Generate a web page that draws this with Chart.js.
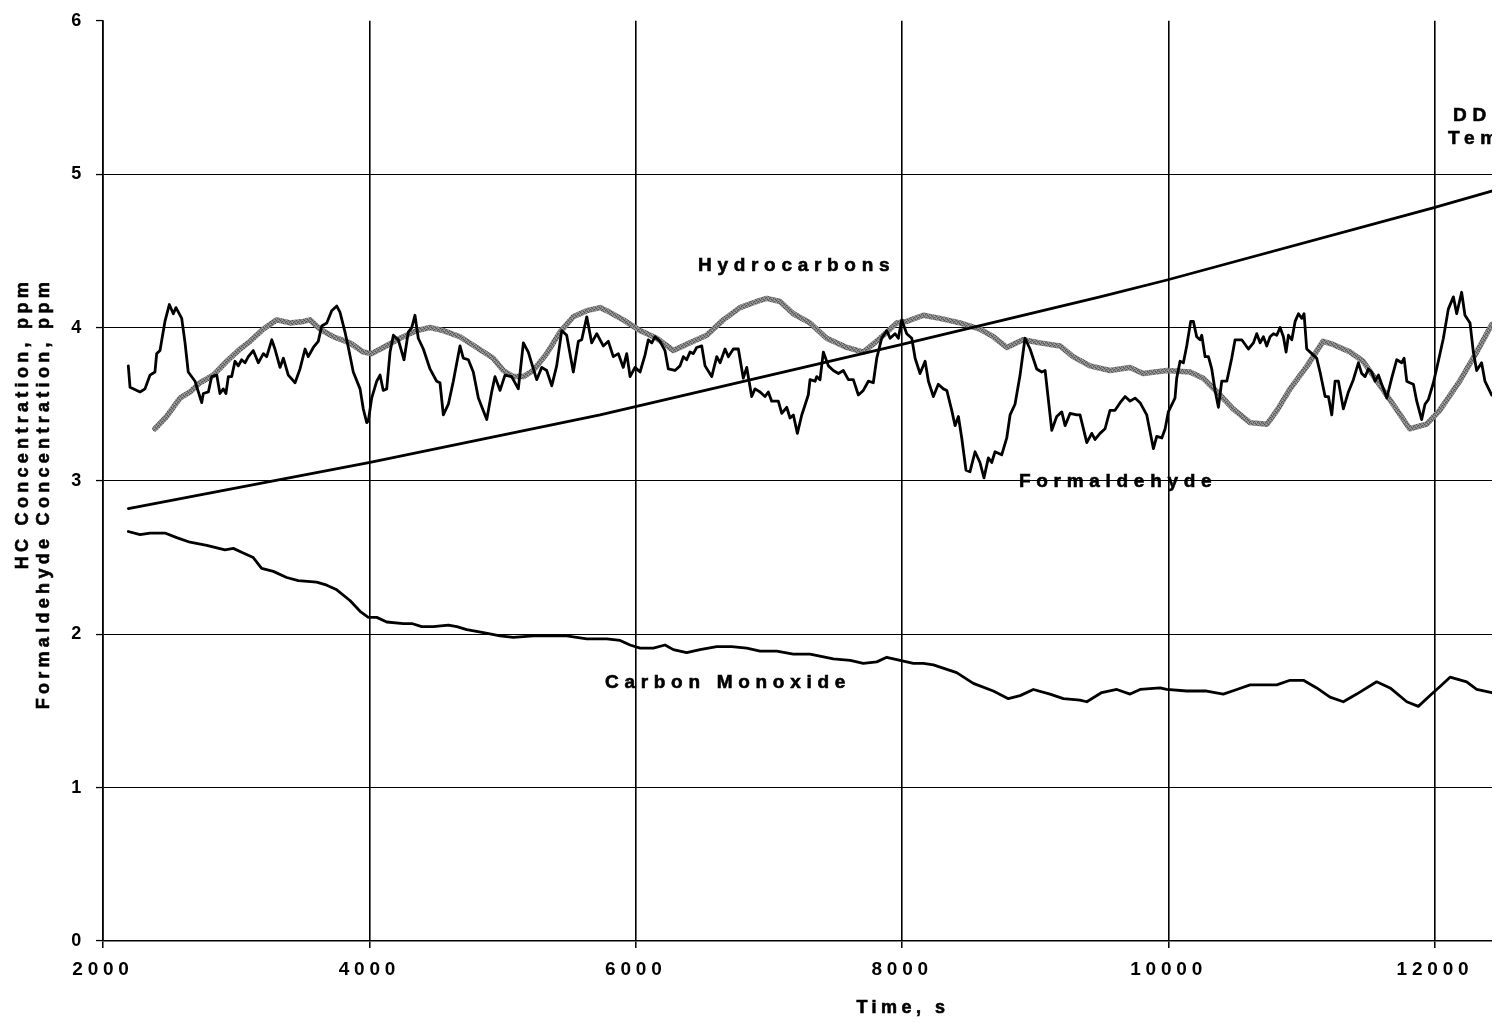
<!DOCTYPE html>
<html>
<head>
<meta charset="utf-8">
<script src="https://cdn.jsdelivr.net/npm/chart.js@4.4.1/dist/chart.umd.min.js"></script>
<style>
  html,body{ margin:0; padding:0; background:#fff; }
  #wrap{ width:1492px; height:1022px; }
</style>
</head>
<body>
<div id="wrap"><canvas id="chart" width="1492" height="1022"></canvas></div>
<script>
// ---- data ----
// formaldehyde: thin black noisy trace
const fx=[2190,2203,2278,2315,2353,2390,2403,2428,2465,2498,2528,2548,2591,2616,2640,2691,2741,2753,2791,2816,2854,2878,2903,2923,2941,2966,2991,3016,3041,3066,3091,3128,3166,3204,3229,3267,3291,3329,3354,3391,3442,3479,3517,3541,3579,3616,3642,3680,3717,3755,3779,3817,3842,3879,3930,3954,3980,3992,4017,4055,4080,4104,4130,4155,4180,4217,4260,4292,4318,4342,4367,4405,4455,4505,4530,4555,4593,4630,4680,4705,4743,4780,4818,4881,4918,4943,4981,5018,5068,5118,5156,5193,5231,5256,5294,5331,5369,5406,5444,5481,5531,5569,5594,5632,5669,5707,
  5756,5794,5831,5869,5906,5932,5957,5994,6032,6069,6094,6120,6144,6182,6219,6244,6294,6332,6357,6382,6407,6432,6457,6495,6520,6570,6608,6633,6670,6695,6732,6770,6807,6833,6870,6895,6933,6970,6995,7020,7070,7096,7133,7158,7183,7213,7246,7295,7308,7346,7358,7383,7408,7446,7483,7521,7558,7596,7633,7671,7708,7746,7783,7809,7846,7884,7909,7946,7971,7997,8034,8072,8097,8134,8172,8197,8234,8271,8309,8335,8372,8397,8422,8447,8479,8509,8547,8584,8614,8647,8672,8697,8747,8785,8810,8847,8885,8922,8960,9010,9048,9073,9123,9160,9198,9223,9260,9311,
  9335,9386,9423,9448,9485,9523,9560,9598,9636,9673,9711,9748,9786,9836,9861,9886,9911,9949,9974,9998,10048,10061,10086,10111,10136,10166,10186,10211,10236,10249,10274,10299,10324,10349,10374,10399,10437,10474,10499,10549,10599,10637,10662,10687,10712,10737,10762,10787,10812,10837,10862,10882,10900,10925,10950,10975,11000,11017,11037,11075,11112,11137,11175,11200,11225,11250,11275,11312,11350,11387,11425,11450,11475,11500,11525,11550,11575,11613,11638,11675,11713,11750,11768,11788,11810,11838,11863,11900,11925,11950,11988,12025,12063,12100,12138,12163,12200,12225,12263,12288,12313,12350,12375,12426];
const fy=[3.75,3.61,3.58,3.60,3.69,3.71,3.83,3.85,4.04,4.15,4.09,4.13,4.06,3.90,3.71,3.65,3.51,3.57,3.58,3.68,3.69,3.57,3.60,3.57,3.68,3.68,3.78,3.75,3.79,3.77,3.81,3.85,3.77,3.83,3.81,3.92,3.86,3.74,3.80,3.69,3.64,3.73,3.86,3.81,3.87,3.91,4.01,4.03,4.11,4.14,4.10,3.97,3.87,3.71,3.60,3.47,3.38,3.39,3.54,3.65,3.69,3.59,3.60,3.84,3.95,3.92,3.79,3.97,4.00,4.08,3.93,3.86,3.73,3.65,3.64,3.43,3.50,3.65,3.88,3.80,3.79,3.71,3.54,3.40,3.58,3.68,3.59,3.69,3.68,3.60,3.90,3.84,3.73,3.66,3.74,3.72,3.62,3.75,3.98,3.95,3.71,3.91,3.92,4.07,3.90,3.96,
  3.88,3.91,3.81,3.83,3.74,3.83,3.68,3.74,3.71,3.82,3.92,3.90,3.94,3.91,3.85,3.73,3.72,3.75,3.81,3.79,3.84,3.83,3.87,3.88,3.75,3.68,3.81,3.77,3.86,3.81,3.86,3.86,3.67,3.74,3.55,3.60,3.58,3.55,3.58,3.52,3.52,3.44,3.48,3.41,3.43,3.31,3.43,3.56,3.66,3.65,3.68,3.66,3.84,3.75,3.72,3.70,3.72,3.66,3.66,3.56,3.59,3.65,3.64,3.80,3.93,3.98,3.93,3.96,3.93,4.05,3.96,3.93,3.80,3.70,3.78,3.65,3.55,3.63,3.60,3.59,3.46,3.36,3.42,3.28,3.07,3.06,3.19,3.12,3.02,3.15,3.12,3.19,3.17,3.28,3.43,3.50,3.69,3.93,3.86,3.73,3.71,3.72,3.33,3.42,3.45,3.36,3.44,3.43,
  3.43,3.25,3.31,3.27,3.31,3.34,3.46,3.46,3.51,3.55,3.52,3.54,3.51,3.43,3.32,3.21,3.29,3.28,3.34,3.45,3.54,3.67,3.78,3.77,3.88,4.04,4.04,3.94,3.92,3.95,3.81,3.81,3.73,3.59,3.48,3.65,3.65,3.80,3.92,3.92,3.86,3.90,3.96,3.90,3.94,3.88,3.94,3.96,3.95,4.00,3.94,3.84,3.95,3.92,4.04,4.09,4.06,4.09,3.86,3.83,3.80,3.71,3.55,3.55,3.43,3.65,3.65,3.47,3.58,3.66,3.77,3.70,3.68,3.73,3.71,3.65,3.69,3.60,3.54,3.67,3.79,3.77,3.80,3.65,3.64,3.63,3.52,3.40,3.50,3.53,3.64,3.78,3.93,4.12,4.20,4.09,4.23,4.08,4.03,3.84,3.72,3.77,3.65,3.56];

// hydrocarbons: thick grey smooth trace
const hx=[2390,2478,2578,2653,2728,2828,2929,3029,3104,3204,3304,3404,3504,3554,3629,3729,3854,3954,4017,4104,4230,4355,4455,4555,4680,4806,4930,5005,5080,5156,5231,5331,5431,5531,5632,5732,5782,5906,6032,6157,6282,6407,6532,6657,6782,6908,6983,7083,7183,7308,7433,7584,7708,7834,7959,8034,8159,8284,8434,8584,8684,8785,8907,9035,9185,9283,9410,9560,9710,9808,9988,10161,10259,10364,10484,10612,10739,10814,10912,11040,11160,11235,11363,11460,11565,11685,11810,11938,12035,12185,12313,12426];
const hy=[3.34,3.42,3.54,3.58,3.64,3.69,3.78,3.86,3.91,3.99,4.05,4.03,4.04,4.05,3.99,3.94,3.90,3.84,3.83,3.87,3.93,3.98,4.00,3.98,3.94,3.87,3.80,3.72,3.68,3.68,3.72,3.83,3.97,4.07,4.11,4.13,4.11,4.05,3.98,3.93,3.85,3.90,3.95,4.05,4.13,4.17,4.19,4.17,4.09,4.03,3.93,3.87,3.84,3.93,4.03,4.04,4.08,4.06,4.03,3.99,3.94,3.87,3.92,3.90,3.88,3.81,3.75,3.72,3.74,3.70,3.72,3.71,3.67,3.58,3.47,3.38,3.37,3.46,3.60,3.75,3.91,3.89,3.84,3.78,3.65,3.50,3.34,3.37,3.46,3.65,3.84,4.02];

// DD temperature: rising straight-ish line
const tx=[2190,4005,5732,7999,9485,9988,11986,12426];
const ty=[2.82,3.12,3.43,3.89,4.20,4.31,4.78,4.89];

// carbon monoxide: slowly falling trace
const cx=[2190,2278,2353,2465,2553,2653,2779,2916,2978,3053,3128,3191,3279,3379,3466,3604,3680,3755,3854,3930,3992,4055,4130,4255,4318,4393,4480,4593,4656,4731,4856,4981,5080,5231,5481,5632,5782,5882,5957,6032,6132,6219,6282,6382,6482,6607,6720,6833,6933,7058,7183,7308,7483,7610,7708,7809,7884,7984,8084,8159,8234,8409,8534,8684,8797,8885,8985,9110,9210,9335,9386,9498,9611,9711,9786,9936,9986,10136,10286,10411,10512,10612,10812,10912,11012,11112,11212,11312,11412,11562,11663,11788,11875,11975,12038,12113,12238,12313,12426];
const cy=[2.67,2.65,2.66,2.66,2.63,2.60,2.58,2.55,2.56,2.53,2.50,2.43,2.41,2.37,2.35,2.34,2.32,2.29,2.22,2.15,2.11,2.11,2.08,2.07,2.07,2.05,2.05,2.06,2.05,2.03,2.01,1.99,1.98,1.99,1.99,1.97,1.97,1.96,1.93,1.91,1.91,1.93,1.90,1.88,1.90,1.92,1.92,1.91,1.89,1.89,1.87,1.87,1.84,1.83,1.81,1.82,1.85,1.83,1.81,1.81,1.80,1.75,1.68,1.63,1.58,1.60,1.64,1.61,1.58,1.57,1.56,1.62,1.64,1.61,1.64,1.65,1.64,1.63,1.63,1.61,1.64,1.67,1.67,1.70,1.70,1.65,1.59,1.56,1.61,1.69,1.65,1.56,1.53,1.61,1.66,1.72,1.69,1.64,1.62];

const xTicks=[2000,4000,6000,8000,10000,12000];
const yTicks=[0,1,2,3,4,5,6];
const yTitleLines=['HC Concentration, ppm','Formaldehyde Concentration, ppm'];
const xTitle='Time, s';
// in-plot labels: text, x value, y value (left edge / baseline)
const labelText=['Hydrocarbons','Formaldehyde','Carbon Monoxide','DD','Tem'];
const labelX=[6467,8877,5769,12136,12098];
const labelY=[4.368,2.958,1.651,5.344,5.194];

const FONT='"Liberation Sans", Arial, sans-serif';

function pts(xs,ys){ return xs.map((x,i)=>({x:x,y:ys[i]})); }

// grey dithered stroke like the original print
function greyPattern(){
  const c=document.createElement('canvas'); c.width=4; c.height=4;
  const g=c.getContext('2d');
  g.fillStyle='#858585'; g.fillRect(0,0,4,4);
  g.fillStyle='#555555'; [[0,0],[2,1],[1,2],[3,3]].forEach(p=>g.fillRect(p[0],p[1],1,1));
  g.fillStyle='#a6a6a6'; [[2,0],[0,2]].forEach(p=>g.fillRect(p[0],p[1],1,1));
  return g.createPattern(c,'repeat');
}

// bold text with a hairline stroke to get the heavy print look
function heavyText(ctx,t,x,y){
  ctx.fillText(t,x,y);
  ctx.strokeText(t,x,y);
}

const textPlugin={
  id:'textPlugin',
  beforeDraw(chart){ chart.ctx.letterSpacing='4.8px'; },
  afterDraw(chart){
    const ctx=chart.ctx, xs=chart.scales.x, ys=chart.scales.y;
    ctx.save();
    ctx.fillStyle='#000'; ctx.strokeStyle='#000'; ctx.lineWidth=0.6;
    // series labels
    ctx.font='bold 19px '+FONT; ctx.letterSpacing='5.7px';
    ctx.textAlign='left'; ctx.textBaseline='alphabetic';
    labelText.forEach((t,i)=>heavyText(ctx,t, xs.getPixelForValue(labelX[i]), ys.getPixelForValue(labelY[i])));
    // x title
    ctx.font='bold 18px '+FONT; ctx.letterSpacing='4.5px';
    ctx.textAlign='center';
    heavyText(ctx,xTitle, 903, 1013);
    // y title, two rotated lines, end-aligned at top
    ctx.font='bold 18px '+FONT; ctx.letterSpacing='4.3px';
    [28,49].forEach((bx,i)=>{
      ctx.save();
      ctx.translate(bx, 278);
      ctx.rotate(-Math.PI/2);
      ctx.textAlign='right';
      heavyText(ctx,yTitleLines[i],0,0);
      ctx.restore();
    });
    ctx.restore();
    ctx.letterSpacing='0px';
  }
};

new Chart(document.getElementById('chart'),{
  type:'line',
  data:{
    datasets:[
      { label:'Formaldehyde', data:pts(fx,fy), borderColor:'#000', borderWidth:2.8, order:1 },
      { label:'DD Temperature', data:pts(tx,ty), borderColor:'#000', borderWidth:2.8, order:2 },
      { label:'Carbon Monoxide', data:pts(cx,cy), borderColor:'#000', borderWidth:2.8, order:3 },
      { label:'Hydrocarbons', data:pts(hx,hy), borderColor:greyPattern(), borderWidth:5.5, order:5 }
    ]
  },
  options:{
    responsive:false, animation:false,
    layout:{ padding:{ top:18, left:0, right:0, bottom:0 } },
    elements:{ point:{ radius:0 }, line:{ tension:0, borderCapStyle:'round', borderJoinStyle:'round' } },
    plugins:{ legend:{ display:false }, tooltip:{ enabled:false } },
    scales:{
      x:{
        type:'linear', min:2000, max:12428,
        afterFit(s){ s.height=81; },
        afterBuildTicks(s){ s.ticks=xTicks.map(v=>({value:v})); },
        ticks:{ autoSkip:false, maxRotation:0, padding:10, color:'#000', font:{ family:FONT, weight:'bold', size:19 }, callback:v=>String(v) },
        grid:{ color:'#000', lineWidth:1.6, tickLength:7, tickColor:'#000', tickWidth:1.5 },
        border:{ display:true, color:'#000', width:1.6 }
      },
      y:{
        min:0, max:6,
        afterFit(s){ s.width=103; },
        afterBuildTicks(s){ s.ticks=yTicks.map(v=>({value:v})); },
        ticks:{ padding:10, color:'#000', font:{ family:FONT, weight:'bold', size:18 }, callback:v=>String(v) },
        grid:{ color:c=>(c.tick && c.tick.value===6)?'rgba(0,0,0,0)':'#000', lineWidth:1.1, tickLength:7, tickColor:'#000', tickWidth:1.3 },
        border:{ display:true, color:'#000', width:1.6 }
      }
    }
  },
  plugins:[textPlugin]
});
</script>
</body>
</html>
